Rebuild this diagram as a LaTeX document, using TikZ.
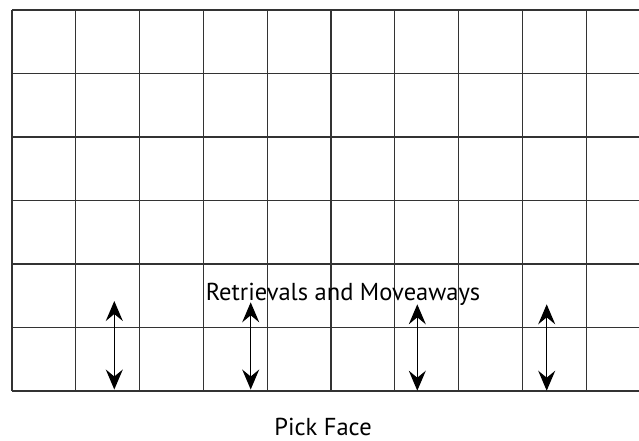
\documentclass[tikz,border=0pt]{standalone}
\usepackage{fontspec}
\setmainfont{PT Sans}
\usetikzlibrary{arrows.meta}
\begin{document}
\begin{tikzpicture}[x=1pt,y=-1pt,
  gridline/.style={line width=1.1pt,draw=black!80},
  liftarrow/.style={line width=1.3pt,draw=black,
    {Stealth[length=20pt,width=17pt,inset=7pt]}-{Stealth[length=20pt,width=17pt,inset=7pt]}},
  caption/.style={font=\fontsize{24.5}{28}\selectfont,inner sep=0pt,anchor=base}]
  \useasboundingbox (0,0) rectangle (639,441);
  % rack face: ten bays wide, six levels high, open at the right
  \foreach \k in {0,...,9}
    \draw[gridline] ({12+\k*63.8},10) -- ({12+\k*63.8},391);
  \foreach \k in {0,...,6}
    \draw[gridline] (12,{10+\k*63.5}) -- (639,{10+\k*63.5});
  % vertical travel of the retrieval and moveaway moves
  \coordinate (a1t) at (114.3,301);   \coordinate (a1b) at (114.3,389.5);
  \coordinate (a2t) at (250.7,302.3); \coordinate (a2b) at (250.7,389.5);
  \coordinate (a3t) at (417.3,304.3); \coordinate (a3b) at (417.3,390.7);
  \coordinate (a4t) at (546.7,304.3); \coordinate (a4b) at (546.7,390.7);
  \draw[liftarrow] (a1t) -- (a1b);
  \draw[liftarrow] (a2t) -- (a2b);
  \draw[liftarrow] (a3t) -- (a3b);
  \draw[liftarrow] (a4t) -- (a4b);
  \node[caption] (moves) at (343,300) {Retrievals and Moveaways};
  \node[caption] (face) at (323,435) {Pick Face};
\end{tikzpicture}
\end{document}
